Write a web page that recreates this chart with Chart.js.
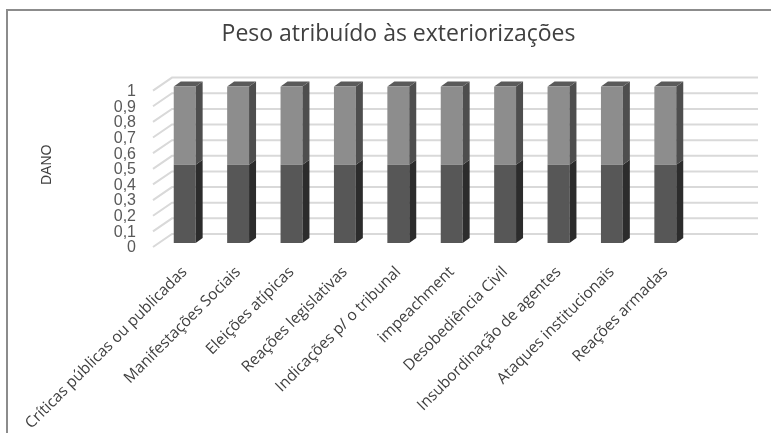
<!DOCTYPE html>
<html>
<head>
<meta charset="utf-8">
<script src="https://cdn.jsdelivr.net/npm/chart.js@4.4.0/dist/chart.umd.min.js"></script>
<style>
  html, body { margin: 0; padding: 0; background: #fff; }
  #wrap { position: relative; width: 771px; height: 433px; overflow: hidden; }
  #frame { position: absolute; left: 6px; top: 9px; width: 800px; height: 500px;
           border-top: 2px solid #8c8c8c; border-left: 2px solid #8c8c8c; }
  #wrap canvas { position: absolute; left: 0; top: 0; }
</style>
</head>
<body>
<div id="wrap">
  <div id="frame"></div>
  <canvas id="grafico" width="771" height="433"></canvas>
</div>
<script>
// Dados do gráfico
const categorias = [
  'Críticas públicas ou publicadas',
  'Manifestações Sociais',
  'Eleições atípicas',
  'Reações legislativas',
  'Indicações p/ o tribunal',
  'impeachment',
  'Desobediência Civil',
  'Insubordinação de agentes',
  'Ataques institucionais',
  'Reações armadas'
];
const parteInferior = [0.5, 0.5, 0.5, 0.5, 0.5, 0.5, 0.5, 0.5, 0.5, 0.5];
const parteSuperior = [0.5, 0.5, 0.5, 0.5, 0.5, 0.5, 0.5, 0.5, 0.5, 0.5];
const rotulosY = ['0', '0,1', '0,2', '0,3', '0,4', '0,5', '0,6', '0,7', '0,8', '0,9', '1'];

// cores: frente, lateral
const coresInferior = { frente: '#575757', lado: '#2c2c2c' };
const coresSuperior = { frente: '#8d8d8d', lado: '#4e4e4e', topo: '#5a5a5a' };

// Efeito 3D: paredes, grade e laterais das barras
const efeito3d = {
  id: 'efeito3d',
  beforeDatasetsDraw(chart) {
    const { ctx, chartArea, scales } = chart;
    const y = scales.y;
    ctx.save();
    ctx.strokeStyle = '#d9d9d9';
    ctx.lineWidth = 2;
    y.ticks.forEach(t => {
      const py = y.getPixelForValue(t.value);
      // parede lateral (diagonal)
      ctx.beginPath();
      ctx.moveTo(chartArea.left - 5, py + 4);
      ctx.lineTo(chartArea.left + 14, py - 9);
      // parede do fundo
      ctx.lineTo(chartArea.right + 66, py - 9);
      ctx.stroke();
    });
    ctx.restore();
  },
  afterDatasetsDraw(chart) {
    const { ctx } = chart;
    const dx = 7, dy = 5;
    ctx.save();
    chart.data.datasets.forEach((ds, i) => {
      const meta = chart.getDatasetMeta(i);
      const cores = i === 0 ? coresInferior : coresSuperior;
      meta.data.forEach(bar => {
        const { x, y, base, width } = bar.getProps(['x', 'y', 'base', 'width'], true);
        const dir = x + width / 2;
        ctx.fillStyle = cores.lado;
        ctx.beginPath();
        ctx.moveTo(dir, y);
        ctx.lineTo(dir + dx, y - dy);
        ctx.lineTo(dir + dx, base - dy);
        ctx.lineTo(dir, base);
        ctx.closePath();
        ctx.fill();
        if (cores.topo) {
          const esq = x - width / 2;
          ctx.fillStyle = cores.topo;
          ctx.beginPath();
          ctx.moveTo(esq, y);
          ctx.lineTo(esq + dx, y - dy);
          ctx.lineTo(dir + dx, y - dy);
          ctx.lineTo(dir, y);
          ctx.closePath();
          ctx.fill();
        }
      });
    });
    ctx.restore();
  }
};

new Chart(document.getElementById('grafico'), {
  type: 'bar',
  data: {
    labels: categorias,
    datasets: [
      {
        label: 'Inferior',
        data: parteInferior,
        backgroundColor: coresInferior.frente,
        barPercentage: 0.41,
        categoryPercentage: 1
      },
      {
        label: 'Superior',
        data: parteSuperior,
        backgroundColor: coresSuperior.frente,
        barPercentage: 0.41,
        categoryPercentage: 1
      }
    ]
  },
  options: {
    responsive: false,
    animation: false,
    layout: { padding: { left: 26, right: 0, top: 0, bottom: 0 } },
    plugins: {
      legend: { display: false },
      tooltip: { enabled: false },
      title: {
        display: true,
        text: 'Peso atribuído às exteriorizações',
        color: '#404040',
        font: { family: 'Open Sans', size: 23, weight: 'normal' },
        padding: { top: 21, bottom: 38 }
      }
    },
    scales: {
      x: {
        stacked: true,
        grid: { display: false, drawTicks: false },
        border: { display: false },
        ticks: {
          color: '#404040',
          font: { family: 'Open Sans', size: 15.5 },
          minRotation: 45,
          maxRotation: 45,
          padding: 20,
          autoSkip: false
        },
        afterFit(scale) { scale.height = 190; }
      },
      y: {
        stacked: true,
        min: 0,
        max: 1,
        grid: { display: false, drawTicks: false },
        border: { display: false },
        ticks: {
          stepSize: 0.1,
          autoSkip: false,
          color: '#595959',
          font: { family: 'Liberation Sans', size: 16 },
          padding: 22,
          labelOffset: 5,
          callback: (v, i) => rotulosY[i]
        },
        title: {
          display: true,
          text: 'DANO',
          color: '#404040',
          font: { family: 'Liberation Sans', size: 14 },
          padding: { top: 13, bottom: 0 }
        },
        afterFit(scale) { scale.width = 132; }
      },
      // espaço vazio à direita (profundidade do fundo)
      margemDireita: {
        type: 'linear',
        position: 'right',
        grid: { display: false, drawTicks: false },
        border: { display: false },
        ticks: { display: false },
        afterFit(scale) { scale.width = 79; }
      }
    }
  },
  plugins: [efeito3d]
});
</script>
</body>
</html>
